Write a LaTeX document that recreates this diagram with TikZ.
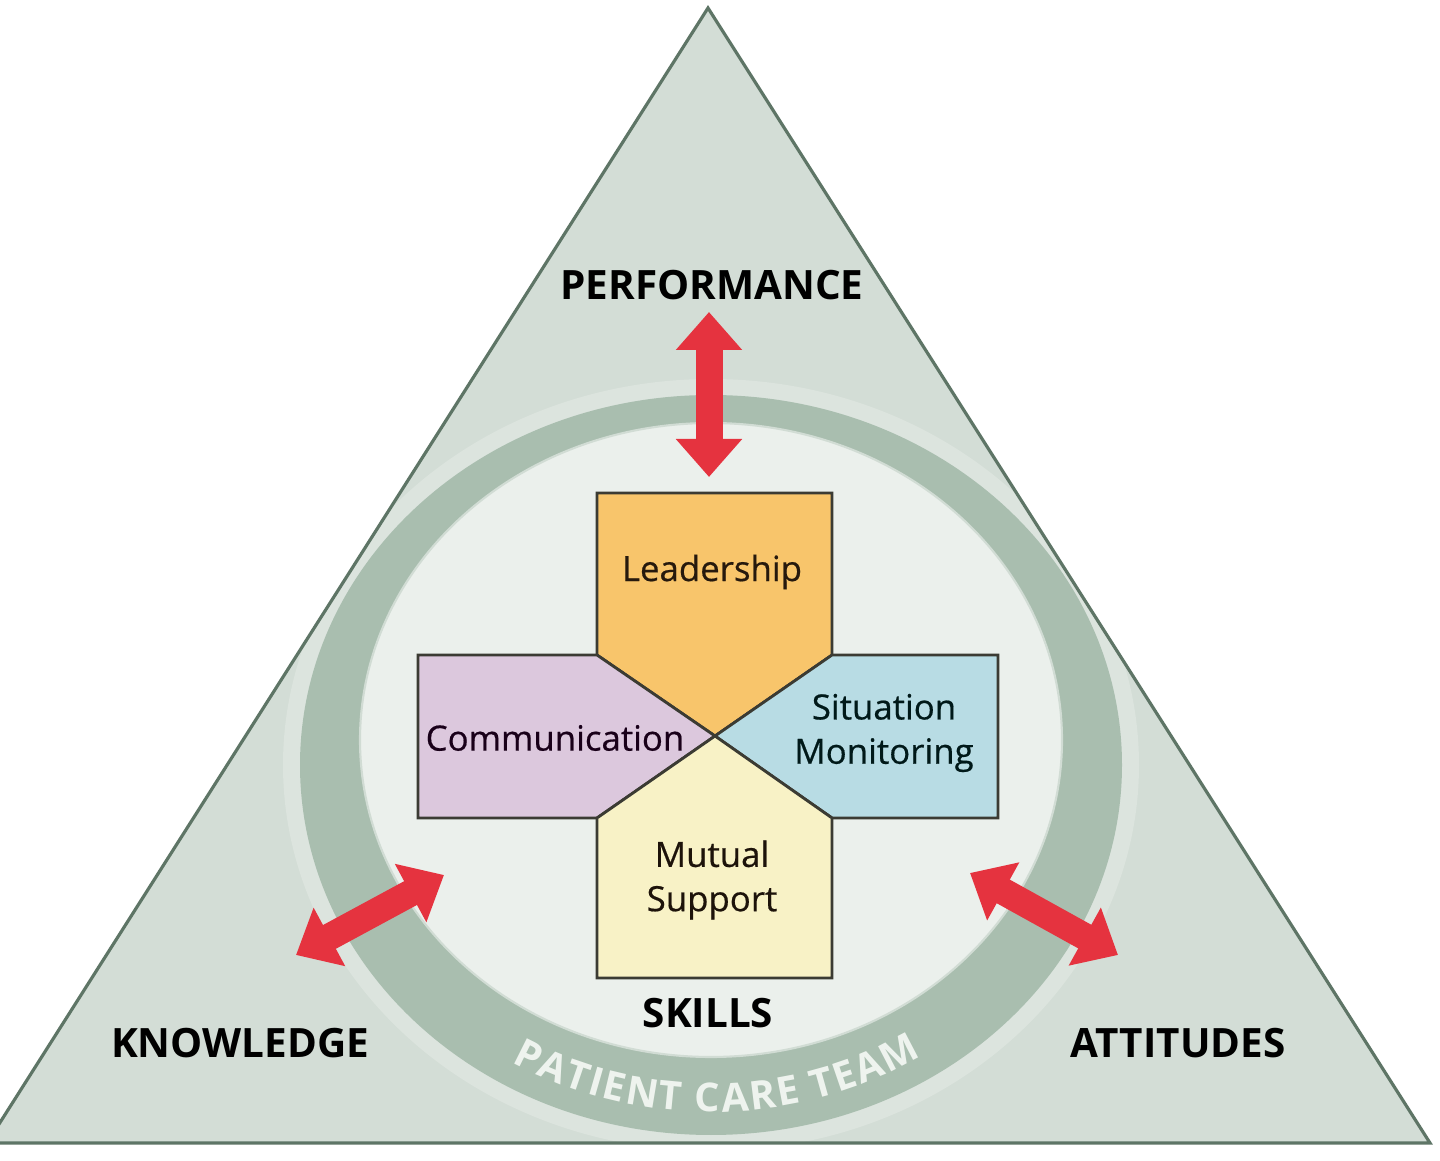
\documentclass[tikz,border=0pt]{standalone}
\usepackage{fontspec}
\setmainfont{Open Sans}
\usetikzlibrary{arrows.meta,decorations.text}

\definecolor{trifill}{HTML}{D3DDD6}
\definecolor{triedge}{HTML}{5E7566}
\definecolor{halo}{HTML}{DCE4DE}
\definecolor{ringcol}{HTML}{A9BEAF}
\definecolor{innercol}{HTML}{EBF0EC}
\definecolor{leadcol}{HTML}{F8C56B}
\definecolor{commcol}{HTML}{DCC8DD}
\definecolor{situcol}{HTML}{B8DCE4}
\definecolor{mutucol}{HTML}{F8F2C6}
\definecolor{pieceedge}{HTML}{3B3B33}
\definecolor{arrowred}{HTML}{E5333F}
\definecolor{teamtext}{HTML}{EEF3EE}

\tikzset{
    piece/.style={draw=pieceedge, line width=0.8pt, line join=miter},
    piecetext/.style={font=\fontsize{9.9}{12.6}\selectfont\addfontfeatures{FakeBold=0.5}, align=center, inner sep=0pt},
    bigword/.style={font=\bfseries\fontsize{11.5}{13}\selectfont, text=black, inner sep=0pt},
    twoway/.style={draw=arrowred, line width=0.27cm,
        {Triangle[width=0.64cm,length=0.38cm]}-{Triangle[width=0.64cm,length=0.38cm]}}
}

\begin{document}
\begin{tikzpicture}
            \useasboundingbox (0, 0) rectangle (14.4, 11.6);
            \fill[white] (0, 0) rectangle (14.4, 11.6);

            \coordinate (apex) at (7.08, 11.52);
            \coordinate (bl) at (-0.13, 0.17);
            \coordinate (br) at (14.30, 0.17);
            \fill[trifill] (apex) -- (br) -- (bl) -- cycle;
            \begin{scope}
                \clip (apex) -- (br) -- (bl) -- cycle;
                \fill[halo] (7.11, 3.95) ellipse [x radius=4.28cm, y radius=3.86cm];
            \end{scope}
            \draw[triedge, line width=0.9pt, line join=miter] (apex) -- (br) -- (bl) -- cycle;

            \fill[ringcol] (7.11, 3.95) ellipse [x radius=4.11cm, y radius=3.70cm];
            \filldraw[fill=innercol, draw=innercol!60!ringcol, line width=0.6pt] (7.11, 4.20) ellipse [x radius=3.51cm, y radius=3.17cm];

            \path[decorate, decoration={text along path, text color=teamtext,
                text align=fit to path,
                text={|\bfseries\fontsize{11.3}{13}\selectfont|PATIENT CARE TEAM}}]
                (7.11, 3.95) ++(239:3.87 and 3.47)
                arc [start angle=239, end angle=303, x radius=3.87cm, y radius=3.47cm];

            \coordinate (c) at (7.15, 4.24);
            \coordinate (ul) at (5.97, 5.05);
            \coordinate (ur) at (8.32, 5.05);
            \coordinate (dl) at (5.97, 3.42);
            \coordinate (dr) at (8.32, 3.42);
            \filldraw[piece, fill=leadcol] (5.97, 6.67) -- (8.32, 6.67) -- (ur) -- (c) -- (ul) -- cycle;
            \filldraw[piece, fill=commcol] (4.18, 5.05) -- (ul) -- (c) -- (dl) -- (4.18, 3.42) -- cycle;
            \filldraw[piece, fill=situcol] (ur) -- (9.98, 5.05) -- (9.98, 3.42) -- (dr) -- (c) -- cycle;
            \filldraw[piece, fill=mutucol] (dl) -- (c) -- (dr) -- (8.32, 1.82) -- (5.97, 1.82) -- cycle;

            \node (lead) at (7.12, 5.88) [piecetext, text=black!80!brown] {Leadership};
            \node (comm) at (5.55, 4.22) [piecetext, text=black!80!violet] {Communication};
            \node (situ) at (8.84, 4.27) [piecetext, text=black!80!teal] {Situation\\Monitoring};
            \node (mutu) at (7.12, 2.80) [piecetext, text=black!85!brown] {Mutual\\Support};

            \node (perf) at (7.12, 8.75) [bigword] {PERFORMANCE};
            \node (skil) at (7.08, 1.47) [bigword] {SKILLS};
            \node (know) at (2.40, 1.17) [bigword] {KNOWLEDGE};
            \node (atti) at (11.78, 1.17) [bigword] {ATTITUDES};

            \coordinate (perf-a) at (7.09, 8.48);
            \coordinate (perf-b) at (7.09, 6.83);
            \coordinate (know-a) at (2.96, 2.05);
            \coordinate (know-b) at (4.44, 2.85);
            \coordinate (atti-a) at (11.18, 2.05);
            \coordinate (atti-b) at (9.70, 2.87);
            \draw[twoway] (perf-a) -- (perf-b);
            \draw[twoway] (know-a) -- (know-b);
            \draw[twoway] (atti-a) -- (atti-b);

        \end{tikzpicture}
\end{document}
